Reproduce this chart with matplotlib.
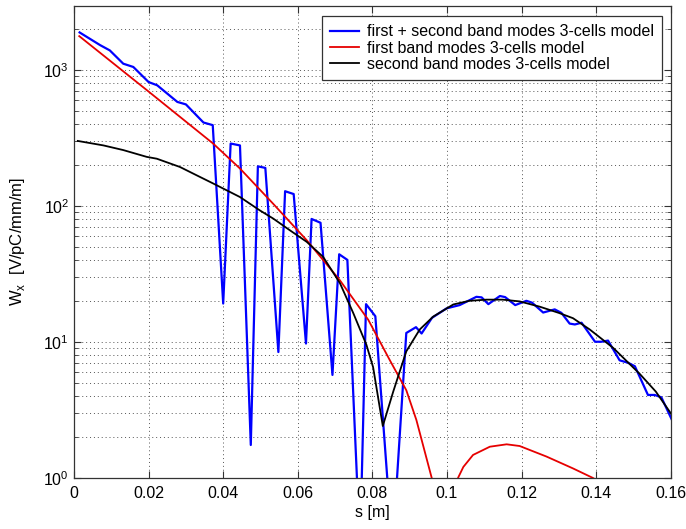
import matplotlib
matplotlib.use("Agg")
import matplotlib.pyplot as plt
from matplotlib.ticker import FixedLocator, FuncFormatter, LogLocator, NullFormatter

# ---- data ----
blue_s = [0.0015, 0.0070, 0.0096, 0.0132, 0.0159, 0.0200, 0.0223, 0.0277, 0.0300,
          0.0347, 0.0372, 0.0400, 0.0420, 0.0445, 0.0474, 0.0493, 0.0513, 0.0548,
          0.0566, 0.0589, 0.0622, 0.0637, 0.0661, 0.0693, 0.0711, 0.0733, 0.0767,
          0.0783, 0.0808, 0.0854, 0.0891, 0.0917, 0.0932, 0.0960, 0.0999, 0.1034,
          0.1079, 0.1093, 0.1111, 0.1142, 0.1156, 0.1183, 0.1213, 0.1228, 0.1258,
          0.1289, 0.1307, 0.1329, 0.1343, 0.1361, 0.1397, 0.1414, 0.1432, 0.1463,
          0.1486, 0.1504, 0.1539, 0.1557, 0.1575, 0.1605]
blue_w = [1884, 1520, 1390, 1110, 1050, 813, 770, 581, 557,
          410, 392, 19.1, 287, 278, 1.74, 195, 190, 8.4,
          128, 122, 9.7, 80, 75, 5.7, 44, 40, 0.3,
          18.9, 15.4, 0.3, 11.6, 12.8, 11.5, 15.0, 17.6, 18.6,
          21.4, 21.2, 18.9, 21.7, 21.3, 18.6, 20.0, 19.4, 16.4,
          17.3, 16.3, 13.6, 13.4, 13.8, 10.0, 10.0, 10.2, 7.3,
          7.0, 6.6, 4.06, 4.06, 3.9, 2.6]

red_s = [0.0014, 0.0195, 0.0373, 0.0445, 0.0534, 0.0624, 0.0713, 0.0789, 0.0847,
         0.0891, 0.0918, 0.0959, 0.0980, 0.1010, 0.1030, 0.1044, 0.1070, 0.1115,
         0.1160, 0.1195, 0.1267, 0.1338, 0.1390, 0.1420]
red_w = [1770, 710, 287, 188, 103.5, 55.8, 28.3, 14.5, 7.3,
         4.4, 2.66, 1.0, 0.6, 0.6, 1.0, 1.2, 1.47, 1.69,
         1.76, 1.71, 1.43, 1.17, 1.0, 0.9]

black_s = [0.0010, 0.0079, 0.0132, 0.0195, 0.0222, 0.0284, 0.0330, 0.0373, 0.0445,
           0.0498, 0.0534, 0.0579, 0.0624, 0.0668, 0.0713, 0.0749, 0.0784, 0.0802,
           0.0828, 0.0856, 0.0891, 0.0927, 0.0963, 0.1017, 0.1060, 0.1106, 0.1150,
           0.1195, 0.1249, 0.1300, 0.1338, 0.1383, 0.1446, 0.1517, 0.1560, 0.1605]
black_w = [300, 278, 257, 229, 222, 193, 167, 146, 116,
           92.6, 80.6, 66, 54.3, 42.1, 27.0, 16.2, 9.5, 6.5,
           2.4, 4.3, 8.5, 12.3, 15.3, 18.8, 20.0, 20.4, 20.4,
           19.8, 18.1, 16.3, 14.9, 12.3, 9.0, 5.8, 4.3, 2.85]

labels = ["first + second band modes 3-cells model",
          "first band modes 3-cells model",
          "second band modes 3-cells model"]
x_ticks = [0, 0.02, 0.04, 0.06, 0.08, 0.1, 0.12, 0.14, 0.16]

plt.rcParams['font.family'] = ['Liberation Sans', 'DejaVu Sans']
plt.rcParams['font.size'] = 11.5
plt.rcParams['mathtext.fontset'] = 'custom'
plt.rcParams['mathtext.rm'] = 'Liberation Sans'

fig = plt.figure(figsize=(6.86, 5.29), dpi=100)
ax = fig.add_axes([0.1079, 0.097, 0.8698, 0.8917])

ax.plot(blue_s, blue_w, color=(0, 0, 1), lw=1.6, label=labels[0])
ax.plot(red_s, red_w, color=(0.9, 0, 0), lw=1.3, label=labels[1])
ax.plot(black_s, black_w, color='black', lw=1.3, label=labels[2])

ax.set_yscale('log')
ax.set_xlim(0, 0.16)
ax.set_ylim(1, 2950)

ax.xaxis.set_major_locator(FixedLocator(x_ticks))
ax.xaxis.set_major_formatter(FuncFormatter(lambda v, p: "%g" % round(v, 4)))
ax.yaxis.set_major_locator(LogLocator(base=10, numticks=10))
ax.yaxis.set_minor_locator(LogLocator(base=10, subs=range(2, 10), numticks=10))
ax.yaxis.set_minor_formatter(NullFormatter())

ax.tick_params(which='both', direction='in', top=True, right=True, colors='#333333',
               labelcolor='black')
ax.tick_params(which='major', length=5, labelsize=11.5)
ax.tick_params(which='minor', length=3)
ax.tick_params(axis='x', pad=6)

ax.grid(True, which='major', axis='both', linestyle=(0, (1, 3)), color='#555555', lw=0.7)
ax.grid(True, which='minor', axis='y', linestyle=(0, (1, 3)), color='#555555', lw=0.7)
for sp in ax.spines.values():
    sp.set_color('#333333')
    sp.set_linewidth(0.9)

ax.set_xlabel("s [m]", labelpad=3, fontsize=11.5)
ax.set_ylabel(r"W$_{\mathrm{x}}$  [V/pC/mm/m]", labelpad=12, fontsize=12)

leg = ax.legend(loc='upper right', bbox_to_anchor=(0.9905, 0.985), fancybox=False,
                edgecolor='#333333', framealpha=1, borderpad=0.5, handlelength=1.8,
                handletextpad=0.5, labelspacing=0.08, fontsize=11.5, borderaxespad=0.2)
leg.get_frame().set_linewidth(0.9)

fig.savefig("out.png", dpi=100)
